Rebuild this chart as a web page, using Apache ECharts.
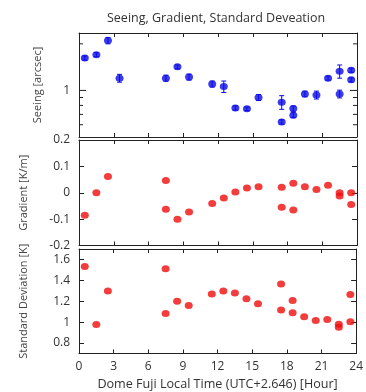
<!DOCTYPE html>
<html>
<head>
<meta charset="utf-8">
<script src="https://cdn.jsdelivr.net/npm/echarts@6/dist/echarts.min.js"></script>
<style>
html,body{margin:0;padding:0;background:#fff;}
#c{width:366px;height:392px;}
</style>
</head>
<body>
<div id="c"></div>
<script>
// ---- data ----
const hours = [0.5,1.5,2.5,3.5,7.5,8.5,9.5,11.5,12.5,13.5,14.5,15.5,17.5,17.5,18.5,18.5,19.5,20.5,21.5,22.5,22.5,23.5,23.5];
const seeing = [1.62,1.70,2.10,1.20,1.20,1.42,1.22,1.10,1.06,0.77,0.76,0.90,0.84,0.626,0.763,0.692,0.949,0.935,1.20,1.33,0.949,1.35,1.17];
const seeingErr = [0.05,0.05,0.10,0.07,0.055,0.04,0.055,0.05,0.09,0.025,0.02,0.04,0.085,0.02,0.03,0.025,0.04,0.055,0.035,0.13,0.055,0.04,0.035];
const gradHours = [0.5,1.5,2.5,7.5,7.5,8.5,9.5,11.5,12.5,13.5,14.5,15.5,17.5,17.5,18.5,18.5,19.5,20.5,21.5,22.5,22.5,23.5,23.5];
const gradient = [-0.085,0.0,0.062,0.046,-0.063,-0.100,-0.073,-0.041,-0.020,0.003,0.018,0.023,0.021,-0.055,0.036,-0.065,0.023,0.012,0.028,0.0,-0.012,0.0,-0.045];
const sdHours = [0.5,1.5,2.5,7.5,7.5,8.5,9.5,11.5,12.5,13.5,14.5,15.5,17.5,17.5,18.5,18.5,19.5,20.5,21.5,22.5,22.5,23.5,23.5];
const stdDev = [1.533,0.978,1.298,1.511,1.083,1.200,1.159,1.270,1.298,1.279,1.225,1.175,1.365,1.117,1.206,1.089,1.051,1.016,1.026,0.981,0.952,1.264,1.003];
const seeingTicks = [0.6,0.7,0.8,0.9,1,2];
const seeingMajor = [1];
const seeingLabels = [1];
const sdTicks = [0.8,1,1.2,1.4,1.6];
const xTicks = [0,3,6,9,12,15,18,21,24];

const TITLE = 'Seeing, Gradient, Standard Deveation';
const XNAME = 'Dome Fuji Local Time (UTC+2.646) [Hour]';
const FONT = 'Open Sans';
const BLUE = '#0a0ae8';
const RED = '#f00c0c';
const LINE = '#222';
const TXT = '#333';

const chart = echarts.init(document.getElementById('c'), null, {renderer:'canvas'});

const L = 79, R = 9;
const grids = [
  {left:L, right:R, top:33, height:104},
  {left:L, right:R, top:140, height:105.5},
  {left:L, right:R, top:249, height:104.5}
];

function xAx(gi, pos, showLabel, name){
  return {
    type:'value', gridIndex:gi, position:pos, min:0, max:24, interval:3,
    axisLine:{show:true, onZero:false, lineStyle:{color:LINE, width:1}},
    axisTick:{show:true, inside:true, length:4, lineStyle:{color:LINE}},
    axisLabel:{show:showLabel, fontFamily:FONT, fontSize:12, color:TXT, margin:7},
    splitLine:{show:false},
    name: name || '', nameLocation:'middle', nameGap:24,
    nameTextStyle:{fontFamily:FONT, fontSize:12.6, color:TXT}
  };
}
function yAx(gi, pos, opts){
  return Object.assign({
    type:'value', gridIndex:gi, position:pos,
    axisLine:{show:true, onZero:false, lineStyle:{color:LINE, width:1}},
    axisTick:{show:true, inside:true, length:5, lineStyle:{color:LINE}},
    axisLabel:{show:pos==='left', fontFamily:FONT, fontSize:12, color:TXT, margin:9},
    splitLine:{show:false},
    nameLocation:'middle', nameRotate:90,
    nameTextStyle:{fontFamily:FONT, fontSize:11, color:'#444'}
  }, opts);
}

const xAxis = [
  xAx(0,'bottom',false), xAx(0,'top',false),
  xAx(1,'bottom',false), xAx(1,'top',false),
  xAx(2,'bottom',true, XNAME), xAx(2,'top',false)
];
const logOpts = {type:'log', logBase:10, min:0.5, max:2.35, axisTick:{show:false}, axisLabel:{show:false}};
const yAxis = [
  yAx(0,'left', Object.assign({name:'Seeing [arcsec]', nameGap:36}, logOpts)),
  yAx(0,'right', logOpts),
  yAx(1,'left', {min:-0.2, max:0.2, interval:0.1, name:'Gradient [K/m]', nameGap:50}),
  yAx(1,'right', {min:-0.2, max:0.2, interval:0.1}),
  yAx(2,'left', {min:0.7, max:1.7, name:'Standard Deviation [K]', nameGap:50}),
  yAx(2,'right', {min:0.7, max:1.7})
];
yAxis[4].axisTick.customValues = sdTicks;
yAxis[4].axisLabel.customValues = sdTicks;
yAxis[5].axisTick.customValues = sdTicks;
yAxis[5].axisLabel.customValues = sdTicks;

const series = [
  {
    type:'custom', xAxisIndex:0, yAxisIndex:0, silent:true, z:5,
    data: hours.map((h,i)=>[h, seeing[i]-seeingErr[i], seeing[i]+seeingErr[i]]),
    renderItem(params, api){
      const x = api.value(0);
      const p1 = api.coord([x, api.value(1)]);
      const p2 = api.coord([x, api.value(2)]);
      const c = 2.5;
      const st = {stroke:BLUE, lineWidth:1};
      return {type:'group', children:[
        {type:'line', shape:{x1:p1[0],y1:p1[1],x2:p2[0],y2:p2[1]}, style:st},
        {type:'line', shape:{x1:p1[0]-c,y1:p1[1],x2:p1[0]+c,y2:p1[1]}, style:st},
        {type:'line', shape:{x1:p2[0]-c,y1:p2[1],x2:p2[0]+c,y2:p2[1]}, style:st}
      ]};
    }
  },
  {
    type:'custom', xAxisIndex:0, yAxisIndex:0, silent:true, z:6,
    data: seeingTicks.map(v=>[0, v]),
    renderItem(params, api){
      const v = api.value(1);
      const y = api.coord([0, v])[1];
      const cs = params.coordSys;
      const len = seeingMajor.includes(v) ? 7 : 4;
      const st = {stroke:LINE, lineWidth:1};
      const ch = [
        {type:'line', shape:{x1:cs.x, y1:y, x2:cs.x+len, y2:y}, style:st},
        {type:'line', shape:{x1:cs.x+cs.width, y1:y, x2:cs.x+cs.width-len, y2:y}, style:st}
      ];
      if (seeingLabels.includes(v)) {
        ch.push({type:'text', style:{text:String(v), x:cs.x-9, y:y, align:'right', verticalAlign:'middle', fontFamily:FONT, fontSize:12, fill:TXT}});
      }
      return {type:'group', children:ch};
    }
  },
  {
    type:'scatter', xAxisIndex:0, yAxisIndex:0, symbol:'circle', symbolSize:[8,7], z:7,
    itemStyle:{color:BLUE}, data: hours.map((h,i)=>[h, seeing[i]])
  },
  {
    type:'scatter', xAxisIndex:2, yAxisIndex:2, symbol:'circle', symbolSize:[8,7],
    itemStyle:{color:RED}, data: gradHours.map((h,i)=>[h, gradient[i]])
  },
  {
    type:'scatter', xAxisIndex:4, yAxisIndex:4, symbol:'circle', symbolSize:[8,7],
    itemStyle:{color:RED}, data: sdHours.map((h,i)=>[h, stdDev[i]])
  }
];

chart.setOption({
  animation:false,
  backgroundColor:'#fff',
  title:{text:TITLE, left:102, top:7, textStyle:{fontFamily:FONT, fontSize:12.5, fontWeight:'normal', color:TXT}},
  grid: grids,
  xAxis, yAxis, series
});
</script>
</body>
</html>
